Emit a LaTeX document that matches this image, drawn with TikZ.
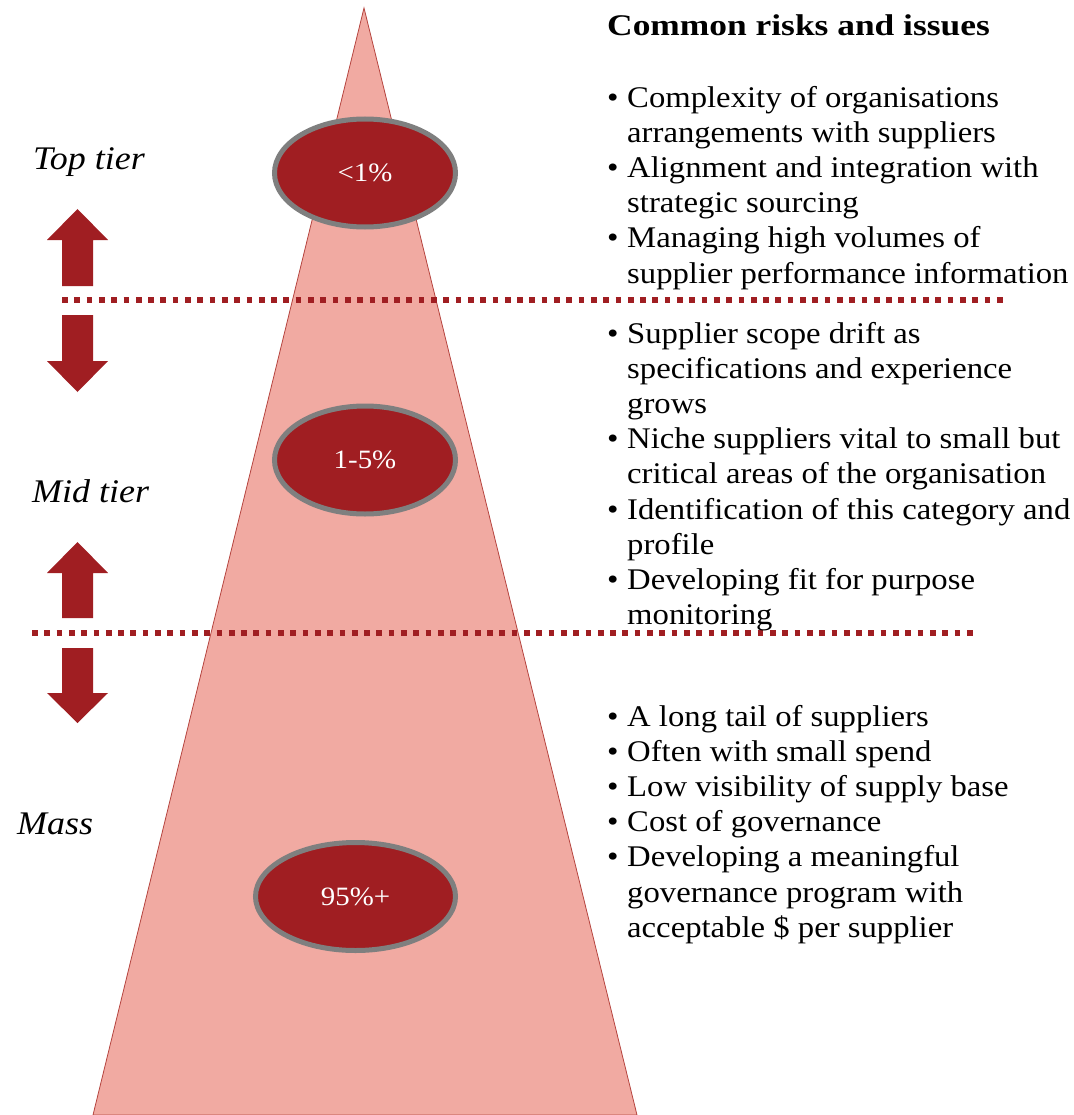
\documentclass[tikz,border=0pt]{standalone}
\usepackage{fontspec}
\setmainfont{Liberation Serif}[FakeStretch=1.09,
  BoldFeatures={FakeStretch=1.18},
  ItalicFeatures={FakeStretch=1.09}]
\usetikzlibrary{shapes.geometric}

\definecolor{tierred}{HTML}{A01E22}
\definecolor{pyramidfill}{HTML}{F1AAA2}
\definecolor{pyramidedge}{HTML}{B5443F}
\definecolor{ringgray}{HTML}{7F7F7F}

\tikzset{
  pyramid/.style={fill=pyramidfill, draw=pyramidedge, line width=0.8pt, line join=miter},
  share/.style={ellipse, fill=tierred, draw=ringgray, line width=5pt, inner sep=0pt,
    text=white, font=\fontsize{26.5}{30}\selectfont},
  divider/.style={draw=tierred, line width=5.7pt, dash pattern=on 5.7pt off 6.6pt},
  tierarrow/.style={fill=tierred},
  tierlabel/.style={anchor=base west, inner sep=0pt, font=\fontsize{33}{38}\selectfont\itshape},
  % multi-line lists are placed by the baseline of their last line
  risklist/.style={anchor=base west, inner sep=0pt, align=left, font=\fontsize{30}{35.2}\selectfont},
  heading/.style={anchor=base west, inner sep=0pt, font=\fontsize{30}{35.2}\selectfont\bfseries},
}
\newcommand{\itm}{\makebox[20pt][l]{\textbullet}}
\newcommand{\cnt}{\hspace*{20pt}}

\begin{document}
\begin{tikzpicture}[x=1pt, y=-1pt]
\useasboundingbox (0,0) rectangle (1073,1115);

% pyramid
\filldraw[pyramid] (364,8) -- (637,1115) -- (93,1115) -- cycle;

% tier dividers
\coordinate (d1a) at (62,300);   \coordinate (d1b) at (1004,300);
\coordinate (d2a) at (32,633);   \coordinate (d2b) at (976,633);
\draw[divider] (d1a) -- (d1b);
\draw[divider] (d2a) -- (d2b);

% up / down arrows around the first divider
\fill[tierarrow] (77.5,209) -- (108,240) -- (93,240) -- (93,286) -- (62,286) -- (62,240) -- (47,240) -- cycle;
\fill[tierarrow] (77.5,392) -- (108,361) -- (93,361) -- (93,315) -- (62,315) -- (62,361) -- (47,361) -- cycle;
% up / down arrows around the second divider
\fill[tierarrow] (77.5,542) -- (108,573) -- (93,573) -- (93,618) -- (62,618) -- (62,573) -- (47,573) -- cycle;
\fill[tierarrow] (77.5,723) -- (108,693) -- (93,693) -- (93,648) -- (62,648) -- (62,693) -- (47,693) -- cycle;

% share of suppliers per tier
\node[share, minimum width=181pt, minimum height=108pt] (top) at (365,173) {<1\%};
\node[share, minimum width=181pt, minimum height=108pt] (mid) at (365,460) {1-5\%};
\node[share, minimum width=200pt, minimum height=108pt] (mass) at (355.5,896.5) {95\%+};

% tier names
\node[tierlabel] (ltop) at (33,170) {Top tier};
\node[tierlabel] (lmid) at (32,502) {Mid tier};
\node[tierlabel] (lmass) at (17,834) {Mass};

% risks and issues
\node[heading] (title) at (607,36) {Common risks and issues};
\node[risklist] (risktop) at (607,283) {%
\itm Complexity of organisations\\
\cnt arrangements with suppliers\\
\itm Alignment and integration with\\
\cnt strategic sourcing\\
\itm Managing high volumes of\\
\cnt supplier performance information};
\node[risklist] (riskmid) at (607,624.6) {%
\itm Supplier scope drift as\\
\cnt specifications and experience\\
\cnt grows\\
\itm Niche suppliers vital to small but\\
\cnt critical areas of the organisation\\
\itm Identification of this category and\\
\cnt profile\\
\itm Developing fit for purpose\\
\cnt monitoring};
\node[risklist] (riskmass) at (607,937.2) {%
\itm A long tail of suppliers\\
\itm Often with small spend\\
\itm Low visibility of supply base\\
\itm Cost of governance\\
\itm Developing a meaningful\\
\cnt governance program with\\
\cnt acceptable \$ per supplier};
\end{tikzpicture}
\end{document}
